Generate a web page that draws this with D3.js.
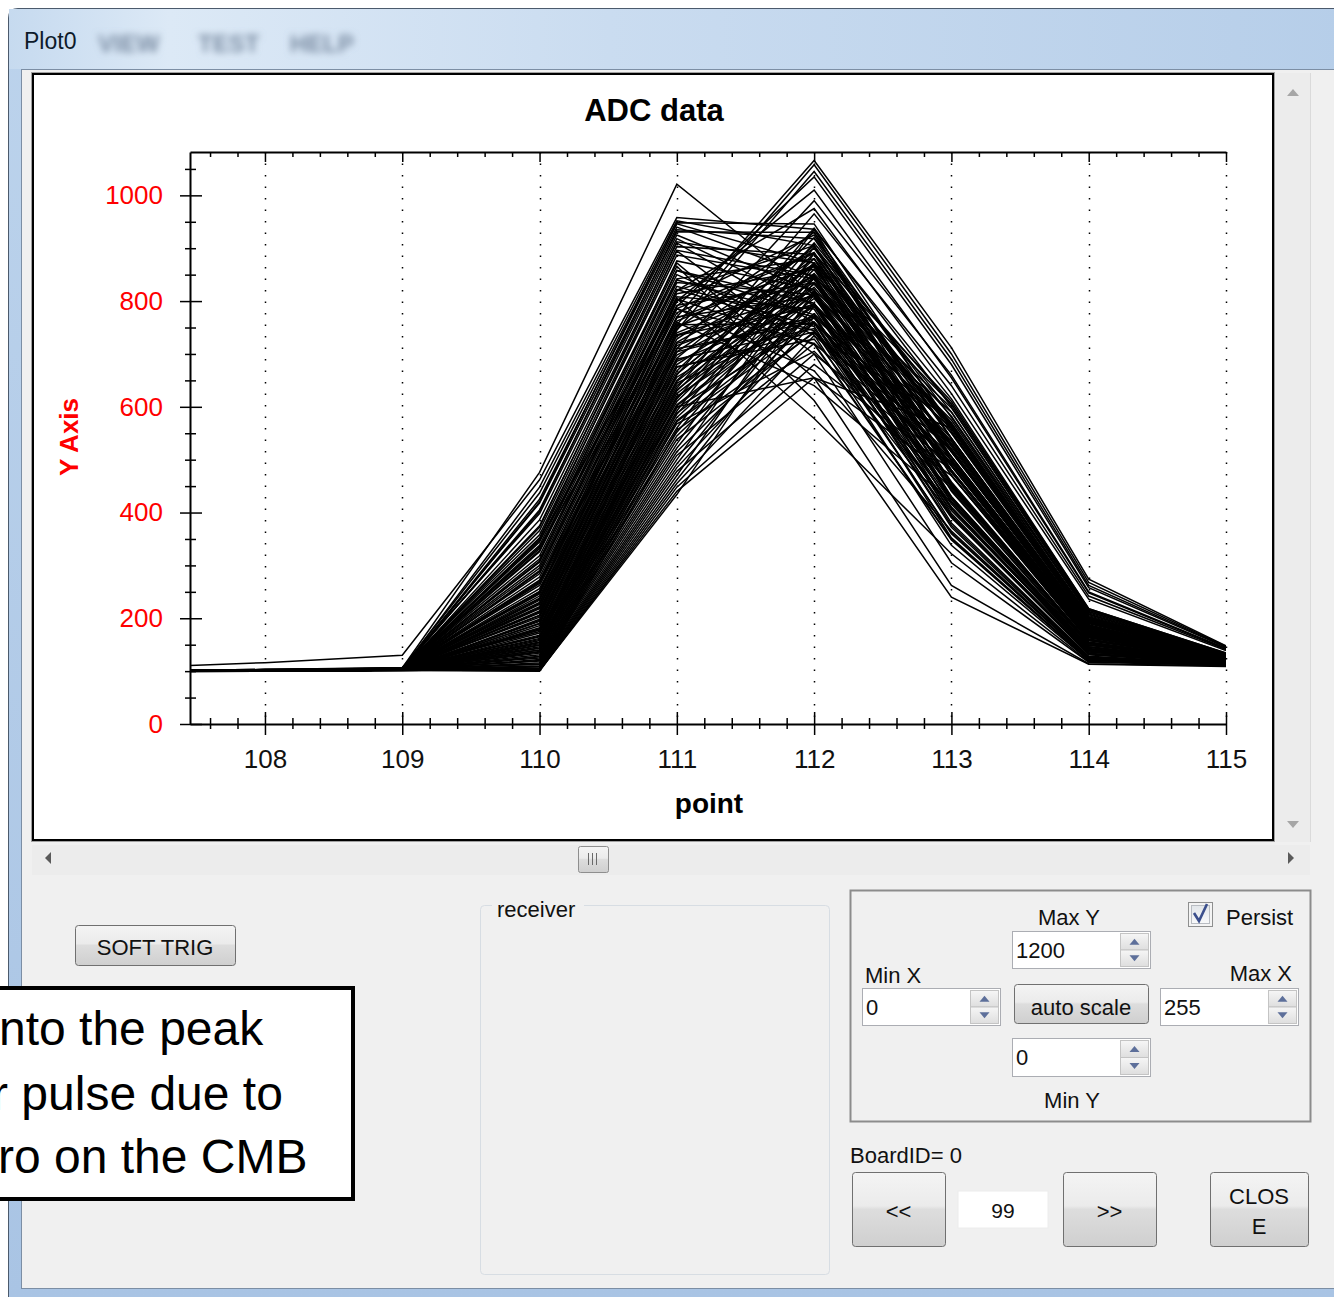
<!DOCTYPE html>
<html>
<head>
<meta charset="utf-8">
<script src="https://cdn.jsdelivr.net/npm/d3@7"></script>
<style>
  body { margin: 0; padding: 0; background: #fff; overflow: hidden; }
  svg { display: block; }
  text { font-family: 'Liberation Sans', Arial, sans-serif; }
</style>
</head>
<body>
<div id="main"></div>
<script>
// sample positions on the x axis
const POINTS = [107, 108, 109, 110, 111, 112, 113, 114, 115];

// ADC traces, one value per point above
const TRACES = [
    [101, 103, 106, 476, 1021, 812, 425, 140, 116],
    [106, 116, 130, 462, 958, 936, 515, 176, 124],
    [100, 102, 104, 448, 952, 905, 480, 160, 120],
    [102, 101, 105, 437, 946, 872, 452, 150, 118],
    [100, 100, 103, 425, 940, 846, 430, 142, 117],
    [101, 102, 104, 418, 931, 930, 498, 168, 122],
    [99, 101, 103, 405, 925, 818, 398, 132, 115],
    [100, 103, 107, 398, 918, 792, 380, 128, 114],
    [102, 100, 102, 386, 910, 760, 352, 122, 113],
    [100, 101, 104, 375, 903, 888, 470, 158, 120],
    [101, 100, 103, 366, 895, 700, 305, 117, 111],
    [100, 102, 105, 358, 887, 842, 420, 140, 116],
    [99, 100, 102, 350, 872, 655, 262, 114, 110],
    [101, 103, 104, 344, 866, 612, 240, 113, 109],
    [100, 101, 103, 338, 858, 774, 372, 126, 114],
    [102, 101, 106, 332, 850, 736, 338, 120, 112],
    [100, 100, 104, 347, 805, 578, 322, 118, 112],
    [101, 102, 103, 335, 786, 668, 365, 125, 113],
    [100, 101, 105, 402, 935, 918, 540, 184, 125],
    [101, 100, 102, 420, 948, 946, 560, 192, 127],
    [100, 101, 103, 326, 842, 880, 455, 152, 119],
    [101, 102, 104, 318, 835, 812, 410, 138, 116],
    [100, 100, 102, 312, 828, 752, 360, 124, 113],
    [102, 101, 105, 306, 820, 905, 505, 170, 122],
    [100, 103, 104, 300, 814, 860, 470, 158, 120],
    [99, 100, 103, 295, 808, 785, 395, 134, 115],
    [101, 101, 102, 290, 800, 925, 540, 186, 125],
    [100, 102, 106, 284, 792, 835, 452, 150, 118],
    [100, 100, 103, 278, 785, 720, 350, 121, 113],
    [101, 102, 104, 272, 778, 890, 520, 176, 123],
    [100, 101, 102, 266, 770, 808, 430, 145, 117],
    [102, 100, 105, 262, 762, 868, 488, 164, 121],
    [100, 101, 103, 256, 755, 758, 390, 133, 115],
    [99, 102, 104, 251, 748, 930, 565, 196, 127],
    [100, 101, 103, 246, 740, 846, 478, 161, 120],
    [101, 100, 102, 242, 735, 790, 420, 143, 116],
    [100, 102, 104, 238, 728, 900, 540, 186, 125],
    [100, 101, 103, 234, 722, 865, 505, 172, 122],
    [102, 100, 105, 230, 716, 812, 455, 155, 119],
    [100, 101, 102, 226, 710, 760, 408, 139, 116],
    [101, 103, 104, 222, 704, 880, 525, 181, 124],
    [100, 100, 103, 218, 698, 835, 480, 163, 121],
    [99, 101, 102, 214, 692, 905, 560, 194, 127],
    [100, 102, 104, 210, 686, 795, 450, 153, 118],
    [101, 100, 103, 206, 680, 850, 505, 174, 123],
    [100, 101, 105, 202, 675, 742, 410, 140, 116],
    [100, 100, 102, 198, 668, 920, 580, 202, 129],
    [102, 101, 104, 194, 662, 870, 530, 183, 125],
    [100, 102, 103, 190, 656, 815, 488, 166, 121],
    [101, 101, 102, 186, 650, 890, 555, 193, 127],
    [100, 100, 104, 182, 645, 768, 448, 152, 118],
    [100, 101, 103, 178, 640, 842, 515, 178, 124],
    [101, 102, 104, 175, 635, 938, 600, 212, 132],
    [100, 100, 102, 172, 630, 880, 560, 196, 128],
    [100, 101, 103, 168, 625, 826, 520, 180, 125],
    [102, 101, 105, 165, 620, 790, 490, 168, 122],
    [100, 102, 103, 162, 615, 910, 590, 207, 131],
    [101, 100, 102, 158, 610, 860, 550, 191, 127],
    [100, 101, 104, 155, 604, 805, 515, 178, 124],
    [100, 100, 103, 152, 598, 760, 478, 164, 121],
    [99, 102, 102, 149, 592, 935, 615, 218, 134],
    [101, 101, 104, 146, 586, 872, 570, 200, 129],
    [100, 100, 103, 143, 580, 818, 535, 186, 126],
    [100, 101, 102, 140, 574, 775, 500, 173, 123],
    [102, 102, 105, 137, 568, 705, 445, 154, 119],
    [100, 100, 103, 134, 560, 902, 605, 215, 133],
    [101, 101, 102, 131, 552, 848, 565, 198, 129],
    [100, 101, 102, 128, 545, 795, 530, 185, 126],
    [100, 100, 103, 125, 538, 742, 495, 171, 123],
    [101, 102, 102, 122, 530, 890, 610, 218, 134],
    [100, 101, 104, 119, 522, 835, 575, 203, 130],
    [100, 100, 102, 116, 515, 770, 535, 188, 126],
    [102, 101, 103, 113, 508, 720, 500, 175, 123],
    [100, 102, 102, 110, 500, 870, 605, 216, 133],
    [101, 100, 103, 108, 492, 812, 565, 200, 129],
    [100, 101, 102, 106, 485, 760, 530, 186, 126],
    [100, 100, 101, 104, 478, 700, 490, 172, 122],
    [99, 101, 102, 103, 470, 845, 598, 213, 132],
    [101, 102, 103, 102, 462, 790, 560, 197, 128],
    [100, 100, 101, 101, 455, 735, 520, 183, 125],
    [100, 101, 102, 100, 448, 680, 480, 168, 121],
    [102, 100, 101, 102, 440, 655, 470, 165, 120],
    [100, 101, 102, 101, 434, 820, 590, 210, 131],
    [100, 101, 103, 205, 770, 1066, 712, 274, 148],
    [101, 100, 102, 190, 755, 1058, 700, 268, 147],
    [100, 102, 104, 178, 745, 1045, 690, 262, 146],
    [100, 101, 103, 220, 790, 1035, 680, 258, 145],
    [101, 100, 102, 236, 800, 1010, 655, 248, 142],
    [100, 101, 104, 160, 710, 990, 660, 250, 143],
    [100, 100, 102, 250, 820, 975, 625, 236, 139],
    [102, 101, 103, 140, 660, 965, 640, 242, 141],
    [100, 101, 103, 270, 760, 640, 420, 146, 117],
    [101, 100, 102, 150, 600, 655, 560, 205, 130],
    [100, 101, 103, 372, 912, 872, 440, 146, 117],
    [101, 100, 102, 352, 896, 848, 425, 141, 116],
    [100, 102, 104, 328, 876, 822, 408, 136, 115],
    [100, 101, 103, 308, 858, 796, 392, 131, 114],
    [102, 100, 102, 288, 840, 770, 376, 127, 113],
    [100, 101, 104, 268, 822, 744, 362, 124, 113],
    [101, 102, 103, 248, 804, 718, 348, 121, 112],
    [100, 100, 102, 228, 786, 892, 498, 168, 121],
    [100, 101, 103, 212, 768, 866, 476, 160, 119],
    [101, 100, 102, 196, 752, 842, 458, 154, 118],
    [100, 102, 104, 180, 736, 818, 442, 149, 117],
    [102, 101, 103, 166, 720, 794, 428, 145, 116],
    [100, 100, 102, 154, 704, 770, 416, 142, 116],
    [100, 101, 103, 144, 690, 748, 404, 139, 115],
    [101, 100, 102, 136, 676, 728, 394, 136, 115],
    [100, 102, 103, 127, 662, 872, 582, 208, 130],
    [100, 101, 102, 120, 648, 852, 568, 202, 129],
    [101, 100, 103, 114, 632, 832, 552, 195, 127],
    [100, 101, 102, 109, 618, 812, 540, 190, 126],
    [102, 100, 101, 105, 602, 794, 528, 184, 125],
    [100, 101, 102, 103, 588, 776, 516, 180, 124],
    [100, 100, 103, 102, 572, 758, 506, 176, 123],
    [101, 101, 102, 101, 556, 740, 494, 172, 122]
];

const X_TICKS = [108, 109, 110, 111, 112, 113, 114, 115];
const Y_TICKS = [0, 200, 400, 600, 800, 1000];
const X_DOMAIN = [107.454, 115];
const Y_DOMAIN = [0, 1082];

const W = 1334, H = 1297;
const svg = d3.select('#main').append('svg').attr('width', W).attr('height', H);
const defs = svg.append('defs');

const gradient = (id, stops, vertical = true) => {
    const g = defs.append('linearGradient').attr('id', id)
        .attr('x1', 0).attr('y1', 0).attr('x2', vertical ? 0 : 1).attr('y2', vertical ? 1 : 0);
    stops.forEach(([o, c]) => g.append('stop').attr('offset', o).attr('stop-color', c));
};
gradient('titleGrad', [[0, '#c6daef'], [0.12, '#dce9f6'], [0.45, '#cadcf0'], [1, '#b6cee9']], false);
gradient('frameGrad', [[0, '#bcd3ec'], [1, '#a9c4e4']]);
gradient('btnGrad', [[0, '#f4f4f4'], [0.45, '#ebebeb'], [0.5, '#dddddd'], [1, '#cfcfcf']]);
gradient('spinGrad', [[0, '#f6f6f6'], [1, '#dedede']]);
gradient('checkGrad', [[0, '#e2e6ea'], [1, '#f8f9fa']]);
defs.append('filter').attr('id', 'blur').append('feGaussianBlur').attr('stdDeviation', 3.5);

// window chrome
svg.append('path')
    .attr('d', `M8.5,${H} L8.5,18 Q8.5,8.5 18,8.5 L${W + 2},8.5 L${W + 2},${H}`)
    .attr('fill', 'url(#frameGrad)').attr('stroke', '#4b5a6c');
svg.append('rect').attr('x', 9).attr('y', 9).attr('width', W).attr('height', 60).attr('fill', 'url(#titleGrad)');
svg.append('rect').attr('x', 21.5).attr('y', 69.5).attr('width', W).attr('height', 1219)
    .attr('fill', '#f0f0f0').attr('stroke', '#7c8ea4');

svg.append('text').attr('x', 24).attr('y', 49).attr('font-size', 23).attr('fill', '#0d1a2a').text('Plot0');
const menu = svg.append('g').attr('filter', 'url(#blur)').attr('fill', '#7a8ca2').attr('font-size', 24).attr('font-weight', 'bold');
[['VIEW', 98], ['TEST', 198], ['HELP', 290]].forEach(([t, x]) => menu.append('text').attr('x', x).attr('y', 52).text(t));

// chart panel
svg.append('rect').attr('x', 31.5).attr('y', 72.5).attr('width', 1243).attr('height', 769).attr('fill', '#fff').attr('stroke', '#a0a0a0');
svg.append('rect').attr('x', 33).attr('y', 74).attr('width', 1240).attr('height', 766).attr('fill', '#fff').attr('stroke', '#000').attr('stroke-width', 2);

// scrollbars
svg.append('rect').attr('x', 1276).attr('y', 73).attr('width', 34).attr('height', 769).attr('fill', '#ececec');
svg.append('line').attr('x1', 1310.5).attr('x2', 1310.5).attr('y1', 73).attr('y2', 842).attr('stroke', '#dadada');
svg.append('path').attr('d', 'M1287,96 L1299,96 L1293,89 Z').attr('fill', '#a6a6a6');
svg.append('path').attr('d', 'M1287,821 L1299,821 L1293,828 Z').attr('fill', '#a6a6a6');
svg.append('rect').attr('x', 32).attr('y', 845).attr('width', 1278).attr('height', 30).attr('fill', '#ececec');
svg.append('path').attr('d', 'M45,858 L51,852 L51,864 Z').attr('fill', '#5a5a5a');
svg.append('path').attr('d', 'M1294,858 L1288,852 L1288,864 Z').attr('fill', '#5a5a5a');
svg.append('rect').attr('x', 578.5).attr('y', 846.5).attr('width', 30).attr('height', 26).attr('rx', 2)
    .attr('fill', 'url(#btnGrad)').attr('stroke', '#8e8e8e');
[588, 592, 596].forEach((x) => svg.append('line').attr('x1', x + 0.5).attr('x2', x + 0.5).attr('y1', 853).attr('y2', 865).attr('stroke', '#6a6a6a'));

// plot
const scaleX = d3.scaleLinear().domain(X_DOMAIN).range([190, 1226]);
const scaleY = d3.scaleLinear().domain(Y_DOMAIN).range([724, 152]);
const plot = svg.append('g').attr('id', 'plot');

defs.append('clipPath').attr('id', 'plotClip').append('rect')
    .attr('x', 190).attr('y', 152).attr('width', 1036).attr('height', 572);

plot.append('g').selectAll('line').data(X_TICKS).enter().append('line')
    .attr('x1', (d) => Math.round(scaleX(d)) + 0.5).attr('x2', (d) => Math.round(scaleX(d)) + 0.5)
    .attr('y1', 152).attr('y2', 724)
    .attr('stroke', '#000').attr('stroke-width', 1.5).attr('stroke-dasharray', '1.5,10');

const line = d3.line().x((d, i) => scaleX(POINTS[i])).y((d) => scaleY(d));
plot.append('g').attr('clip-path', 'url(#plotClip)')
    .selectAll('path').data(TRACES).enter().append('path')
    .attr('d', line).attr('fill', 'none').attr('stroke', '#000').attr('stroke-width', 1.5);

const minorX = scaleX.ticks(40).filter((d) => Math.abs(d - Math.round(d)) > 1e-6);
const minorY = scaleY.ticks(20).filter((d) => d % 200 !== 0);

const addAxis = (axis, transform) => {
    const g = plot.append('g').attr('transform', transform).call(axis);
    g.selectAll('line').attr('stroke', '#000').attr('stroke-width', 1.5);
    g.select('.domain').attr('stroke', '#000').attr('stroke-width', 2);
    return g;
};
const bare = (g) => { g.select('.domain').remove(); g.selectAll('text').remove(); };

// bottom axis
const xAxis = addAxis(d3.axisBottom(scaleX).tickValues(X_TICKS).tickSize(11).tickSizeOuter(0).tickPadding(15), 'translate(0,724)');
xAxis.selectAll('text').attr('font-size', 26).attr('fill', '#111');
bare(addAxis(d3.axisBottom(scaleX).tickValues(X_TICKS).tickSize(-12), 'translate(0,724)'));
bare(addAxis(d3.axisBottom(scaleX).tickValues(minorX).tickSize(5), 'translate(0,724)'));
bare(addAxis(d3.axisBottom(scaleX).tickValues(minorX).tickSize(-6), 'translate(0,724)'));
// top axis
const topAxis = addAxis(d3.axisTop(scaleX).tickValues(X_TICKS).tickSize(-10).tickSizeOuter(0).tickFormat(''), 'translate(0,152)');
topAxis.selectAll('text').remove();
bare(addAxis(d3.axisTop(scaleX).tickValues(minorX).tickSize(-5), 'translate(0,152)'));
// left axis
const yAxis = addAxis(d3.axisLeft(scaleY).tickValues(Y_TICKS).tickSize(10).tickSizeOuter(0).tickPadding(17).tickFormat(d3.format('d')), 'translate(190,0)');
yAxis.selectAll('text').attr('font-size', 26).attr('fill', '#ff0000');
bare(addAxis(d3.axisLeft(scaleY).tickValues(Y_TICKS).tickSize(-12), 'translate(190,0)'));
bare(addAxis(d3.axisLeft(scaleY).tickValues(minorY).tickSize(5), 'translate(190,0)'));
bare(addAxis(d3.axisLeft(scaleY).tickValues(minorY).tickSize(-6), 'translate(190,0)'));

plot.append('text').attr('x', 654).attr('y', 121).attr('text-anchor', 'middle')
    .attr('font-size', 31).attr('font-weight', 'bold').text('ADC data');
plot.append('text').attr('x', 709).attr('y', 813).attr('text-anchor', 'middle')
    .attr('font-size', 28).attr('font-weight', 'bold').text('point');
plot.append('text').attr('transform', 'translate(78,437) rotate(-90)').attr('text-anchor', 'middle')
    .attr('font-size', 26).attr('font-weight', 'bold').attr('fill', '#ff0000').text('Y Axis');

// controls
const ui = svg.append('g').attr('font-size', 22).attr('fill', '#000');
const label = (x, y, t, anchor = 'start', size = 22) =>
    ui.append('text').attr('x', x).attr('y', y).attr('text-anchor', anchor).attr('font-size', size).attr('fill', '#111').text(t);
const button = (x, y, w, h, lines) => {
    ui.append('rect').attr('x', x + 0.5).attr('y', y + 0.5).attr('width', w).attr('height', h).attr('rx', 3)
        .attr('fill', 'url(#btnGrad)').attr('stroke', '#707070');
    lines.forEach(([t, by]) => label(x + w / 2, by, t, 'middle'));
};
const spinBox = (x, y, w, h, value) => {
    ui.append('rect').attr('x', x + 0.5).attr('y', y + 0.5).attr('width', w).attr('height', h)
        .attr('fill', '#fff').attr('stroke', '#abadb3');
    label(x + 4, y + h / 2 + 8, value);
    const bx = x + w - 30, bh = (h - 4) / 2;
    [y + 2, y + 2 + bh].forEach((by, k) => {
        ui.append('rect').attr('x', bx + 0.5).attr('y', by + 0.5).attr('width', 28).attr('height', bh)
            .attr('fill', 'url(#spinGrad)').attr('stroke', '#c4c4c4');
        const cx = bx + 14.5, cy = by + bh / 2 + 0.5;
        ui.append('path')
            .attr('d', k === 0 ? `M${cx - 5},${cy + 3} L${cx + 5},${cy + 3} L${cx},${cy - 3} Z` : `M${cx - 5},${cy - 3} L${cx + 5},${cy - 3} L${cx},${cy + 3} Z`)
            .attr('fill', '#5d6f9a');
    });
};

button(75, 925, 160, 40, [['SOFT TRIG', 955]]);

// receiver group
ui.append('rect').attr('x', 480.5).attr('y', 905.5).attr('width', 349).attr('height', 369).attr('rx', 4)
    .attr('fill', 'none').attr('stroke', '#d7dde3');
ui.append('rect').attr('x', 492).attr('y', 898).attr('width', 92).attr('height', 16).attr('fill', '#f0f0f0');
label(497, 917, 'receiver');

// scale group
ui.append('rect').attr('x', 850.5).attr('y', 890.5).attr('width', 460).attr('height', 231)
    .attr('fill', 'none').attr('stroke', '#8c8c8c').attr('stroke-width', 2);
label(1069, 925, 'Max Y', 'middle');
ui.append('rect').attr('x', 1188.5).attr('y', 902.5).attr('width', 24).attr('height', 24).attr('fill', '#f4f4f4').attr('stroke', '#8e8f8f');
ui.append('rect').attr('x', 1191.5).attr('y', 905.5).attr('width', 18).attr('height', 18).attr('fill', 'url(#checkGrad)').attr('stroke', '#b8bcc2');
ui.append('path').attr('d', 'M1194,913 L1199,921 L1207,904').attr('fill', 'none').attr('stroke', '#3b4f8c').attr('stroke-width', 2.6);
label(1226, 925, 'Persist');
spinBox(1012, 931, 138, 37, '1200');
label(865, 983, 'Min X');
label(1292, 981, 'Max X', 'end');
spinBox(862, 988, 138, 37, '0');
button(1014, 984, 134, 39, [['auto scale', 1015]]);
spinBox(1160, 988, 138, 37, '255');
spinBox(1012, 1038, 138, 38, '0');
label(1072, 1108, 'Min Y', 'middle');

label(850, 1163, 'BoardID= 0');
button(852, 1172, 93, 74, [['<<', 1219]]);
ui.append('rect').attr('x', 958).attr('y', 1191).attr('width', 90).attr('height', 37).attr('fill', '#fff').attr('stroke', '#ececec');
label(1003, 1218, '99', 'middle', 21);
button(1063, 1172, 93, 74, [['>>', 1219]]);
button(1210, 1172, 98, 74, [['CLOS', 1204], ['E', 1234]]);

// annotation box (its text runs off the left edge, as in the source screenshot)
const note = svg.append('g');
note.append('rect').attr('x', -6).attr('y', 988).attr('width', 359).attr('height', 211)
    .attr('fill', '#fff').attr('stroke', '#000').attr('stroke-width', 4);
[['nto the peak', -1, 1045], ['r pulse due to', -8, 1110], ['ro on the CMB', -2, 1173]].forEach(([t, x, y]) =>
    note.append('text').attr('x', x).attr('y', y).attr('font-family', 'Lato, sans-serif').attr('font-size', 48).attr('fill', '#000').text(t));
</script>
</body>
</html>
